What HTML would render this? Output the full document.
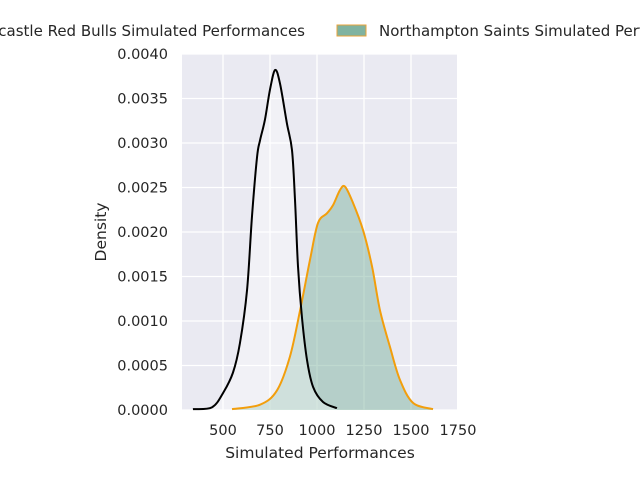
<!DOCTYPE html>
<html><head><meta charset="utf-8"><style>
body{margin:0;background:#fff;}
svg{display:block;font-family:"DejaVu Sans","Liberation Sans",sans-serif;}
</style></head><body>
<svg id="chart" width="640" height="480" viewBox="0 0 640 480" xmlns="http://www.w3.org/2000/svg">
<rect x="182" y="54" width="275" height="356" fill="#eaeaf2"/>
<g id="grid"></g>
<g id="fills"></g>
<g id="lines"></g>
<g id="ticks" font-size="14.5" fill="#262626"></g>
<text x="320" y="458" text-anchor="middle" font-size="15.5" fill="#262626">Simulated Performances</text>
<text transform="translate(106,232) rotate(-90)" text-anchor="middle" font-size="15.5" fill="#262626">Density</text>
<g>
<text x="305" y="36" text-anchor="end" font-size="15" fill="#262626">Newcastle Red Bulls Simulated Performances</text>
<rect x="337" y="25" width="29" height="11" fill="#80b3a0" stroke="#e8a33a" stroke-width="1"/>
<text x="379" y="36" font-size="15" fill="#262626">Northampton Saints Simulated Performances</text>
</g>
</svg>
<script>
const xTicks=[500,750,1000,1250,1500,1750];
const yTicks=[0,0.0005,0.001,0.0015,0.002,0.0025,0.003,0.0035,0.004];
const yTickLabels=["0.0000","0.0005","0.0010","0.0015","0.0020","0.0025","0.0030","0.0035","0.0040"];
const newcastleX=[340,441,500,553,590,628,654,681,697,723,750,777,803,840,867,883,899,920,947,979,1032,1106];
const newcastleY=[0.00001,0.00003,0.00019,0.00042,0.00075,0.00135,0.00217,0.00284,0.00303,0.00326,0.0036,0.00382,0.00367,0.00322,0.00292,0.00236,0.00161,0.00104,0.00056,0.00026,0.00009,0.00002];
const northamptonX=[548,697,787,856,910,963,1005,1053,1085,1122,1149,1191,1245,1293,1335,1388,1441,1511,1617];
const northamptonY=[0.00001,0.00006,0.00022,0.0006,0.00112,0.00169,0.0021,0.00221,0.0023,0.00247,0.00251,0.00233,0.00202,0.00161,0.00112,0.00071,0.00034,0.00008,0.00001];
const NS="http://www.w3.org/2000/svg";
function sx(v){return 223+(v-500)*0.188;}
function sy(d){return 410-d/0.0005*44.5;}
function mk(t,a,p){const e=document.createElementNS(NS,t);for(const k in a)e.setAttribute(k,a[k]);p.appendChild(e);return e;}
const grid=document.getElementById('grid'),ticks=document.getElementById('ticks'),fills=document.getElementById('fills'),lines=document.getElementById('lines');
xTicks.forEach(v=>{
 const l=mk('line',{x1:sx(v),x2:sx(v),y1:54,y2:410,stroke:'#fff','stroke-width':1.3},grid);
 
 
 const t=mk('text',{x:sx(v),y:435,'text-anchor':'middle'},ticks);t.textContent=v;
 
 
});
yTicks.forEach((v,i)=>{
 const l=mk('line',{x1:182,x2:457,y1:sy(v),y2:sy(v),stroke:'#fff','stroke-width':1.3},grid);
 
 
 const t=mk('text',{x:168,y:sy(v)+5,'text-anchor':'end'},ticks);t.textContent=yTickLabels[i];
 
 
});
function smooth(xs,ys){
 const p=xs.map((x,i)=>[sx(x),sy(ys[i])]);
 let d='M'+p[0][0]+','+p[0][1];
 for(let i=0;i<p.length-1;i++){
  const p0=p[Math.max(0,i-1)],p1=p[i],p2=p[i+1],p3=p[Math.min(p.length-1,i+2)];
  const c1=[p1[0]+(p2[0]-p0[0])/6,p1[1]+(p2[1]-p0[1])/6],c2=[p2[0]-(p3[0]-p1[0])/6,p2[1]-(p3[1]-p1[1])/6];
  d+=' C'+c1[0]+','+c1[1]+' '+c2[0]+','+c2[1]+' '+p2[0]+','+p2[1];
 }
 return d;
}
function draw(xs,ys,fill,fop,stroke,name){
 const line=smooth(xs,ys);
 const area=line+' L'+sx(xs[xs.length-1])+','+sy(0)+' L'+sx(xs[0])+','+sy(0)+' Z';
 const a=mk('path',{d:area,fill:fill,'fill-opacity':fop,stroke:'none'},fills);
 
 
 const l=mk('path',{d:line,fill:'none',stroke:stroke,'stroke-width':2},lines);
 
 
}
draw(northamptonX,northamptonY,'#80b3a0',0.5,'#f29e0c','northampton-density');
draw(newcastleX,newcastleY,'#ffffff',0.35,'#000000','newcastle-density');
</script>
</body></html>
